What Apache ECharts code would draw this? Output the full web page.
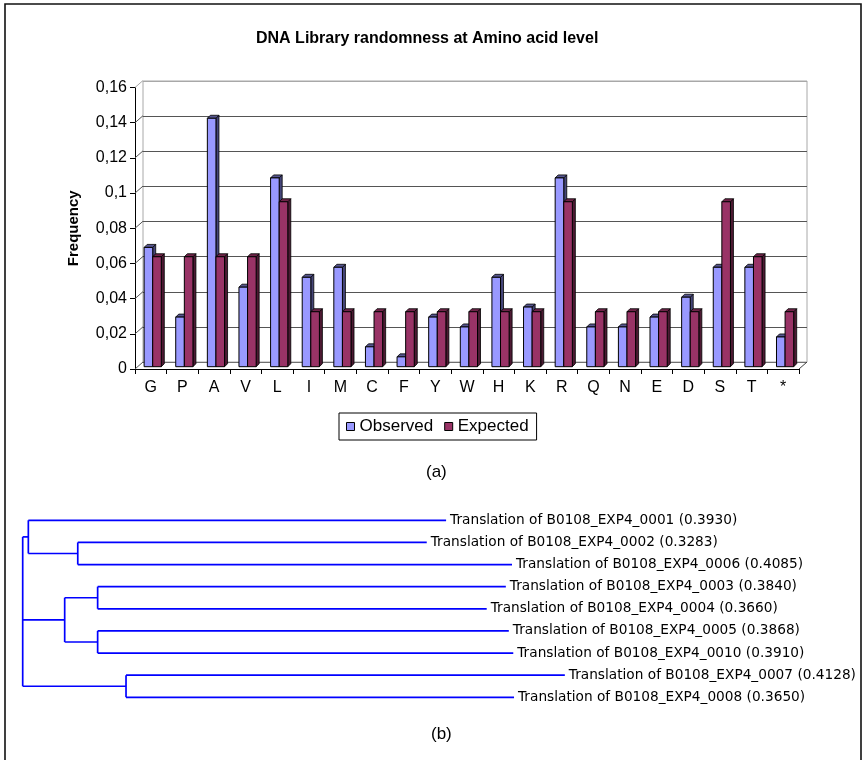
<!DOCTYPE html>
<html><head><meta charset="utf-8">
<script src="https://cdn.jsdelivr.net/npm/echarts@6/dist/echarts.min.js"></script>
<style>html,body{margin:0;padding:0;background:#fff}#c{width:865px;height:760px}</style>
</head><body><div id="c"></div>
<script>
// ---------- data: panel (a) ----------
const categories = ['G','P','A','V','L','I','M','C','F','Y','W','H','K','R','Q','N','E','D','S','T','*'];
const observed = [0.0678,0.0282,0.1412,0.0452,0.1073,0.0508,0.0565,0.0113,0.0056,0.0282,0.0226,0.0508,0.0339,0.1073,0.0226,0.0226,0.0282,0.0395,0.0565,0.0565,0.0169];
const expected = [0.0625,0.0625,0.0625,0.0625,0.09375,0.03125,0.03125,0.03125,0.03125,0.03125,0.03125,0.03125,0.03125,0.09375,0.03125,0.03125,0.03125,0.03125,0.09375,0.0625,0.03125];
const yTickValues = [0,0.02,0.04,0.06,0.08,0.1,0.12,0.14,0.16];
const yTickLabels = ['0','0,02','0,04','0,06','0,08','0,1','0,12','0,14','0,16'];
const seriesNames = ['Observed','Expected'];

// ---------- data: panel (b) dendrogram ----------
const leafIds = ['0001','0002','0006','0003','0004','0005','0010','0007','0008'];
const leafLengths = [0.3930,0.3283,0.4085,0.3840,0.3660,0.3868,0.3910,0.4128,0.3650];
const leafParents = ['A','A2','A2','B1','B1','B2','B2','C','C'];
const nodeIds = ['A','A2','B','B1','B2','C'];
const nodeParents = ['root','A','root','B','B','root'];
const nodeLengths = [0.0053,0.0465,0.0395,0.031,0.031,0.0972];

// ---------- layout / style ----------
const FONT = '"Liberation Sans", Arial, sans-serif';
const depthX = 8, depthY = 7;
const barW = 8.6, barShift = 1.9, barLift = 2.3, barD = 3;

// tree layout
const xPos = {root:0}, yPos = {}, kids = {root:[]};
nodeIds.forEach((id,k)=>{ xPos[id] = xPos[nodeParents[k]] + nodeLengths[k]; kids[id] = []; kids[nodeParents[k]].push(id); });
leafIds.forEach((id,k)=>{ const key='L'+k; xPos[key] = xPos[leafParents[k]] + leafLengths[k]; yPos[key] = k; kids[leafParents[k]].push(key); });
function yOf(id){ if (yPos[id] !== undefined) return yPos[id]; const ys = kids[id].map(yOf); yPos[id] = ys.reduce((a,b)=>a+b,0)/ys.length; return yPos[id]; }
yOf('root');
const parentOf = {};
nodeIds.forEach((id,k)=>parentOf[id]=nodeParents[k]);
leafIds.forEach((id,k)=>parentOf['L'+k]=leafParents[k]);
const segments = [];
Object.keys(parentOf).forEach(id=>{ segments.push([xPos[parentOf[id]], yPos[id], xPos[id], yPos[id]]); });
Object.keys(kids).forEach(id=>{ const ys = kids[id].map(k=>yPos[k]); segments.push([xPos[id], Math.min(...ys), xPos[id], Math.max(...ys)]); });

function barSeries(si, values, front, top, side, z){
  return {
    type:'custom', name: seriesNames[si], xAxisIndex:0, yAxisIndex:0, z,
    itemStyle:{color: front},
    data: values.map((v,i)=>[i,v]),
    encode:{x:0,y:1},
    renderItem(params, api){
      const i = api.value(0), v = api.value(1);
      const t = api.coord([i, v]), b = api.coord([i, 0]);
      const cx = t[0] + barShift;
      const l = si === 0 ? cx - barW : cx;
      const r = l + barW;
      const yt = t[1] - barLift, yb = b[1] - barLift;
      return {type:'group', children:[
        {type:'polygon', shape:{points:[[r,yt],[r+barD,yt-barD],[r+barD,yb-barD],[r,yb]]}, style:{fill:side, stroke:'#000', lineWidth:0.8}},
        {type:'polygon', shape:{points:[[l,yt],[r,yt],[r+barD,yt-barD],[l+barD,yt-barD]]}, style:{fill:top, stroke:'#000', lineWidth:0.8}},
        {type:'rect', shape:{x:l, y:yt, width:barW, height:yb-yt}, style:{fill:front, stroke:'#000', lineWidth:1}}
      ]};
    }
  };
}

const chart = echarts.init(document.getElementById('c'), null, {renderer:'canvas'});
chart.setOption({
  animation:false,
  backgroundColor:'#fff',
  title:[
    {text:'DNA Library randomness at Amino acid level', left:251, top:26, textStyle:{fontFamily:FONT, fontSize:16, fontWeight:'bold', color:'#000'}},
    {text:'(a)', left:421, top:459, textStyle:{fontFamily:FONT, fontSize:17, fontWeight:'normal', color:'#000'}},
    {text:'(b)', left:426, top:721, textStyle:{fontFamily:FONT, fontSize:17, fontWeight:'normal', color:'#000'}}
  ],
  legend:{
    data:seriesNames, left:339, top:413, orient:'horizontal',
    borderColor:'#000', borderWidth:1, padding:[5,8,5,7], itemGap:11,
    itemWidth:8, itemHeight:8, icon:'rect',
    itemStyle:{borderColor:'#000', borderWidth:1},
    textStyle:{fontFamily:FONT, fontSize:17, color:'#000'}
  },
  grid:[
    {left:135, top:87.5, width:664, height:281.5},
    {left:143, top:81, width:664, height:281, show:true, borderColor:'#a8a8a8', borderWidth:1, backgroundColor:'transparent'},
    {left:22.7, top:520.3, width:531.5, height:177}
  ],
  xAxis:[
    {type:'category', gridIndex:0, data:categories, boundaryGap:true,
     axisLine:{lineStyle:{color:'#000', width:1}},
     axisTick:{show:true, interval:0, length:5, lineStyle:{color:'#000'}},
     axisLabel:{interval:0, margin:11, fontFamily:FONT, fontSize:16, color:'#000'}},
    {type:'category', gridIndex:1, data:categories, show:false},
    {type:'value', gridIndex:2, min:0, max:0.5, show:false}
  ],
  yAxis:[
    {type:'value', gridIndex:0, min:0, max:0.16, interval:0.02,
     name:'Frequency', nameLocation:'middle', nameGap:54,
     nameTextStyle:{fontFamily:FONT, fontSize:15, fontWeight:'bold', color:'#000'},
     axisLine:{show:true, lineStyle:{color:'#000'}},
     axisTick:{show:true, length:5, lineStyle:{color:'#000'}},
     splitLine:{show:false},
     axisLabel:{margin:8, fontFamily:FONT, fontSize:16, color:'#000',
       formatter:(v)=>{ const k = yTickValues.findIndex(t=>Math.abs(t-v)<1e-9); return k>=0 ? yTickLabels[k] : ''; }}},
    {type:'value', gridIndex:1, min:0, max:0.16, interval:0.02,
     axisLine:{show:false}, axisTick:{show:false}, axisLabel:{show:false},
     splitLine:{show:true, lineStyle:{color:['#707070','#555555','#555555','#555555','#555555','#555555','#555555','#555555','#a8a8a8'], width:1.2}}},
    {type:'value', gridIndex:2, min:0, max:8, inverse:true, show:false}
  ],
  series:[
    {
      type:'custom', xAxisIndex:0, yAxisIndex:0, z:1, silent:true,
      data: yTickValues.map(v=>[0,v]), encode:{x:0,y:1},
      renderItem(params, api){
        const cs = params.coordSys;
        const y = api.coord([0, api.value(1)])[1];
        const children = [{type:'line', shape:{x1:cs.x, y1:y, x2:cs.x+depthX, y2:y-depthY}, style:{stroke: params.dataIndex===yTickValues.length-1 ? '#a8a8a8' : '#555555', lineWidth:1}}];
        if (params.dataIndex === 0) children.push({type:'line', shape:{x1:cs.x+cs.width, y1:y, x2:cs.x+cs.width+depthX, y2:y-depthY}, style:{stroke:'#404040', lineWidth:1}});
        return {type:'group', children};
      }
    },
    barSeries(0, observed, '#9999ff', '#56568f', '#46467a', 3),
    barSeries(1, expected, '#993366', '#6e2448', '#4d1a33', 4),
    {
      type:'custom', xAxisIndex:2, yAxisIndex:2, silent:true,
      data: segments, encode:{x:[0,2], y:[1,3]},
      renderItem(params, api){
        const p1 = api.coord([api.value(0), api.value(1)]);
        const p2 = api.coord([api.value(2), api.value(3)]);
        return {type:'line', shape:{x1:p1[0], y1:p1[1], x2:p2[0], y2:p2[1]}, style:{stroke:'#0000ff', lineWidth:1.7}};
      }
    },
    {
      type:'custom', xAxisIndex:2, yAxisIndex:2, silent:true,
      data: leafIds.map((id,k)=>[xPos['L'+k], k]), encode:{x:0, y:1},
      renderItem(params, api){
        const p = api.coord([api.value(0), api.value(1)]);
        const k = params.dataIndex;
        return {type:'text', x:p[0]+4, y:p[1], style:{
          text:'Translation of B0108_EXP4_' + leafIds[k] + ' (' + leafLengths[k].toFixed(4) + ')',
          fill:'#000', font:'13.7px "DejaVu Sans", Verdana, sans-serif', verticalAlign:'middle', align:'left'}};
      }
    }
  ],
  graphic:[
    {type:'rect', z:100, silent:true, shape:{x:5, y:4, width:856, height:800}, style:{fill:'none', stroke:'#111', lineWidth:1.6}}
  ]
});
</script>
</body></html>
